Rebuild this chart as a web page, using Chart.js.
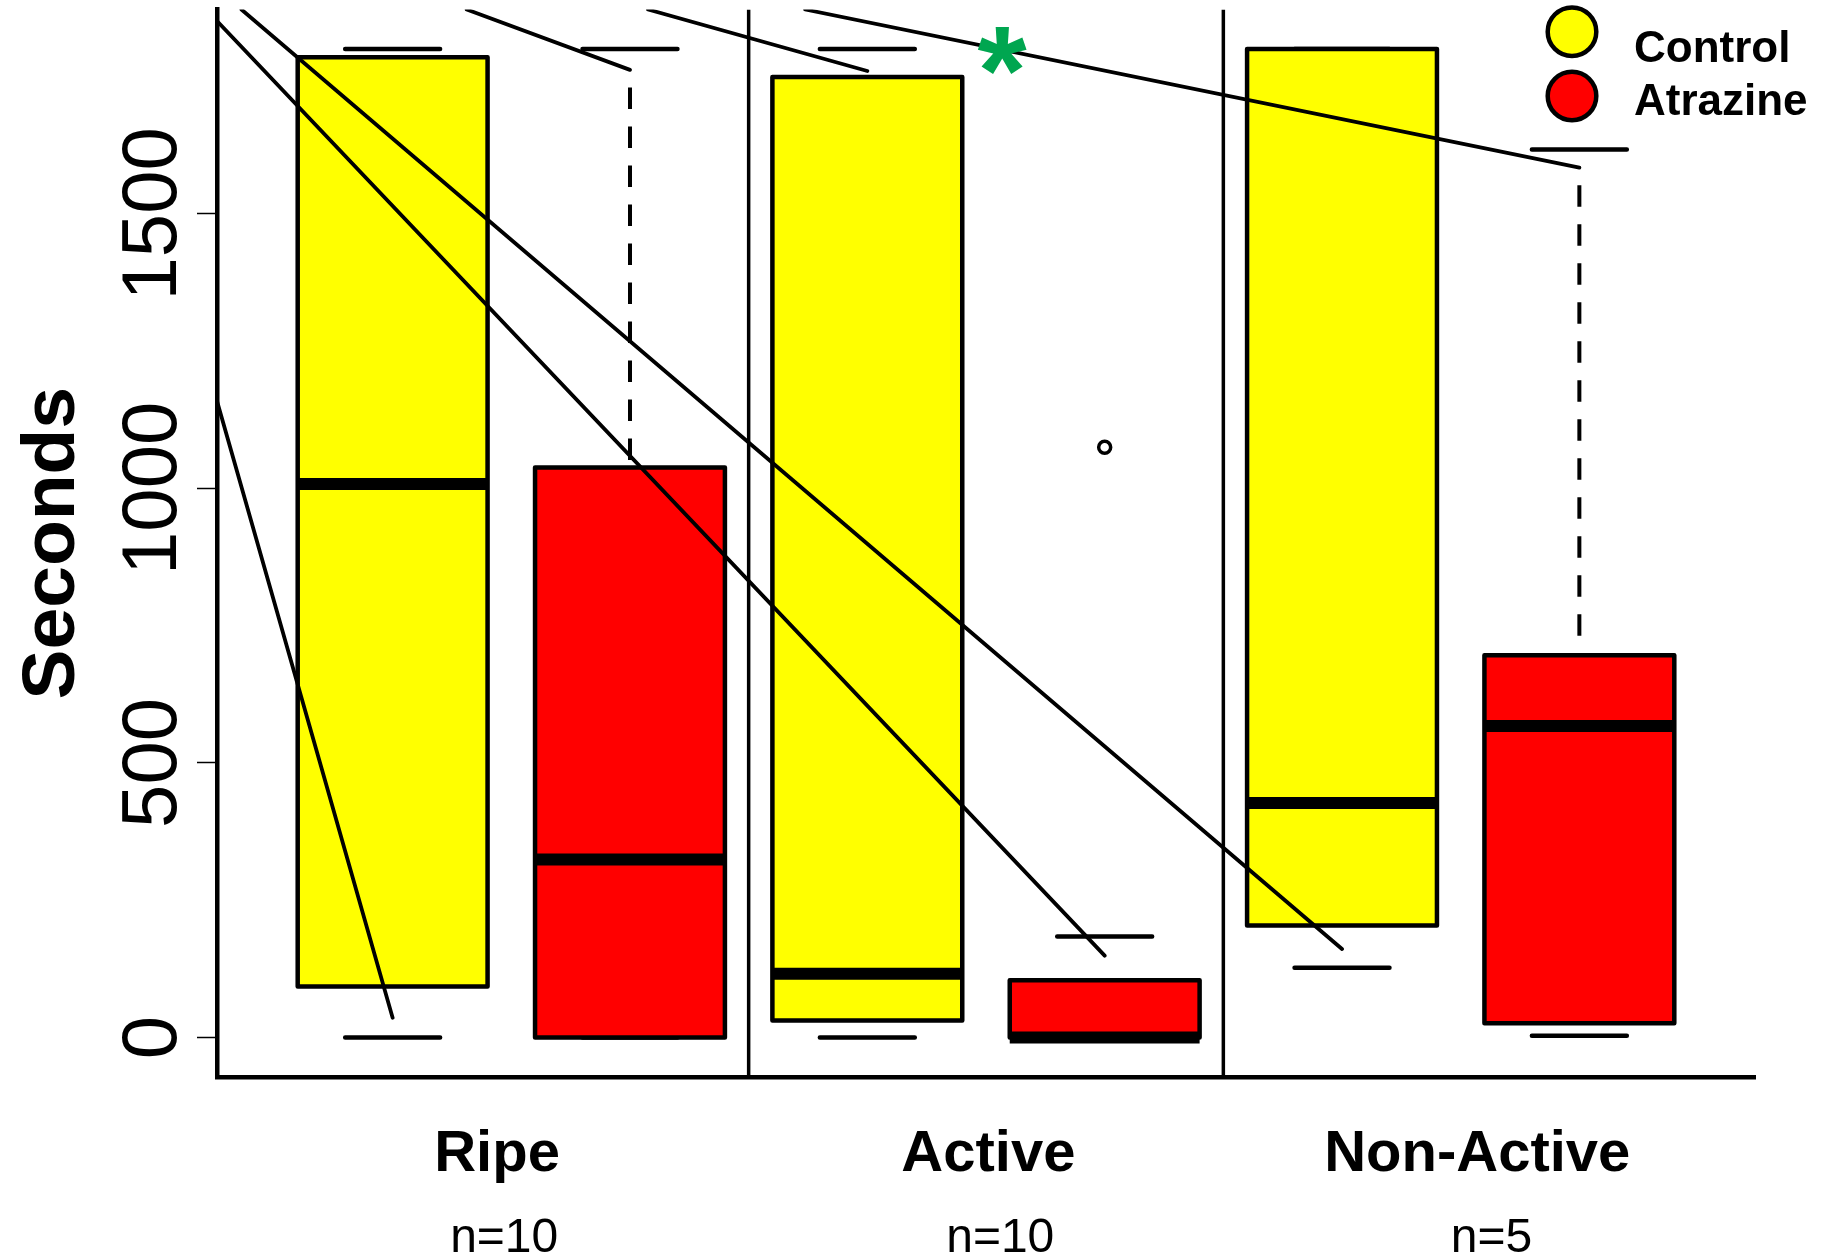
<!DOCTYPE html>
<html>
<head>
<meta charset="utf-8">
<script src="https://cdn.jsdelivr.net/npm/chart.js@4.4.1/dist/chart.umd.min.js"></script>
<style>
  html, body { margin: 0; padding: 0; background: #ffffff; }
  canvas { display: block; }
</style>
</head>
<body>
<canvas id="chart" width="1829" height="1256"></canvas>
<script>
// ---------------- DATA ----------------
const categories = ['Ripe', 'Active', 'Non-Active'];
const categoryPositions = [1.44, 3.51, 5.57];
const sampleSizeLabels = ['n=10', 'n=10', 'n=5'];
const sampleSizePositions = [1.47, 3.56, 5.63];

const groupNames = ['Control', 'Atrazine'];
const groupColors = ['#ffff00', '#ff0000'];

const boxPositions = [1, 2, 3, 4, 5, 6];
const boxGroups = [0, 1, 0, 1, 0, 1];
const whiskerLow = [0, 0, 0, 0, 127, 3];
const q1Values = [93, 0, 31, 0, 204, 26];
const medianValues = [1008, 324, 116, 0, 427, 567];
const q3Values = [1785, 1038, 1749, 104, 1800, 696];
const whiskerHigh = [1800, 1800, 1800, 184, 1800, 1617];
// visible dashed upper whisker lines (top end value), null = not drawn
const upperWhiskerLineTop = [null, 1762, null, null, null, 1584];

const outlierX = [4];
const outlierY = [1075];

const separatorPositions = [2.5, 4.5];

const yTicks = [0, 500, 1000, 1500];
const yRange = [-72, 1872];
const xRange = [0.26, 6.74];

// straight annotation lines (start / end in data units)
const lineStartX = [0.26, 0.26, 0.363, 1.312, 2.076, 2.738];
const lineStartY = [1159, 1851, 1872, 1872, 1872, 1872];
const lineEndX = [1, 4, 5, 2, 3, 6];
const lineEndY = [36, 149, 161, 1762, 1760, 1584];

const asteriskX = [3.57];
const asteriskY = [1797];

const yTitle = 'Seconds';

// ---------------- STYLE ----------------
const FONT = '"Liberation Sans", Arial, Helvetica, sans-serif';
const BOX_WIDTH = 0.8;
const CAP_WIDTH = 0.4;

// ---------------- DATASETS ----------------
const datasets = [];
lineStartX.forEach((sx, i) => {
  datasets.push({
    type: 'line',
    data: [{ x: sx, y: lineStartY[i] }, { x: lineEndX[i], y: lineEndY[i] }],
    borderColor: '#000000',
    borderWidth: 3.8,
    borderCapStyle: 'round',
    pointRadius: 0,
    fill: false,
    tension: 0
  });
});
separatorPositions.forEach(p => {
  datasets.push({
    type: 'line',
    data: [{ x: p, y: yRange[0] }, { x: p, y: yRange[1] }],
    borderColor: '#000000',
    borderWidth: 3.5,
    pointRadius: 0,
    fill: false
  });
});
datasets.push({
  type: 'scatter',
  data: outlierX.map((x, i) => ({ x: x, y: outlierY[i] })),
  pointRadius: 6,
  pointBorderWidth: 3.5,
  borderColor: '#000000',
  backgroundColor: 'rgba(0,0,0,0)',
  pointStyle: 'circle'
});

// ---------------- PLUGINS ----------------
const boxPlugin = {
  id: 'boxes',
  beforeDatasetsDraw(chart) {
    const { ctx, chartArea, scales } = chart;
    const x = scales.x, y = scales.y;
    ctx.save();
    ctx.beginPath();
    ctx.rect(chartArea.left, chartArea.top, chartArea.right - chartArea.left, chartArea.bottom - chartArea.top);
    ctx.clip();
    boxPositions.forEach((pos, i) => {
      const xl = x.getPixelForValue(pos - BOX_WIDTH / 2);
      const xr = x.getPixelForValue(pos + BOX_WIDTH / 2);
      const xc = x.getPixelForValue(pos);
      const cl = x.getPixelForValue(pos - CAP_WIDTH / 2);
      const cr = x.getPixelForValue(pos + CAP_WIDTH / 2);
      const yq1 = y.getPixelForValue(q1Values[i]);
      const yq3 = y.getPixelForValue(q3Values[i]);
      const ymed = y.getPixelForValue(medianValues[i]);
      const ylo = y.getPixelForValue(whiskerLow[i]);
      const yhi = y.getPixelForValue(whiskerHigh[i]);

      ctx.strokeStyle = '#000000';
      // dashed whisker, drawn downward from its top end to the box
      if (upperWhiskerLineTop[i] !== null) {
        ctx.save();
        ctx.setLineDash([21.5, 17.5]);
        ctx.lineDashOffset = 21.5;
        ctx.lineWidth = 4;
        ctx.lineCap = 'butt';
        ctx.beginPath();
        ctx.moveTo(xc, y.getPixelForValue(upperWhiskerLineTop[i]));
        ctx.lineTo(xc, yq3);
        ctx.stroke();
        ctx.restore();
      }
      // caps
      ctx.lineWidth = 4.5;
      ctx.lineCap = 'round';
      ctx.beginPath();
      ctx.moveTo(cl, yhi); ctx.lineTo(cr, yhi);
      ctx.moveTo(cl, ylo); ctx.lineTo(cr, ylo);
      ctx.stroke();
      // box
      ctx.fillStyle = groupColors[boxGroups[i]];
      ctx.fillRect(xl, yq3, xr - xl, yq1 - yq3);
      ctx.lineJoin = 'round';
      ctx.lineWidth = 4.5;
      ctx.strokeRect(xl, yq3, xr - xl, yq1 - yq3);
      // median
      ctx.lineWidth = 12;
      ctx.lineCap = 'butt';
      ctx.beginPath();
      ctx.moveTo(xl, ymed); ctx.lineTo(xr, ymed);
      ctx.stroke();
    });
    ctx.restore();
  },
  afterDatasetsDraw(chart) {
    const { ctx, scales } = chart;
    const x = scales.x, y = scales.y;
    ctx.save();
    asteriskX.forEach((ax, i) => {
      ctx.font = 'bold 100px ' + FONT;
      const m = ctx.measureText('*');
      const h = m.actualBoundingBoxAscent + m.actualBoundingBoxDescent;
      const size = 100 * 48 / h;
      ctx.font = 'bold ' + size + 'px ' + FONT;
      const m2 = ctx.measureText('*');
      const cx = x.getPixelForValue(ax);
      const cy = y.getPixelForValue(asteriskY[i]);
      const gx = cx - (m2.actualBoundingBoxRight - m2.actualBoundingBoxLeft) / 2;
      const gy = cy + (m2.actualBoundingBoxAscent - m2.actualBoundingBoxDescent) / 2;
      ctx.fillStyle = '#00a650';
      ctx.textAlign = 'left';
      ctx.textBaseline = 'alphabetic';
      ctx.fillText('*', gx, gy);
    });
    ctx.restore();
  },
  afterDraw(chart) {
    const { ctx, chartArea, scales } = chart;
    const x = scales.x, y = scales.y;
    ctx.save();
    ctx.fillStyle = '#000000';
    // y tick labels (rotated)
    ctx.font = '78px ' + FONT;
    ctx.textAlign = 'center';
    ctx.textBaseline = 'alphabetic';
    yTicks.forEach(v => {
      const py = y.getPixelForValue(v);
      ctx.save();
      ctx.translate(176, py);
      ctx.rotate(-Math.PI / 2);
      ctx.fillText(String(v), 0, 0);
      ctx.restore();
    });
    // y title
    ctx.font = 'bold 75px ' + FONT;
    ctx.save();
    ctx.translate(74, (chartArea.top + chartArea.bottom) / 2);
    ctx.rotate(-Math.PI / 2);
    ctx.fillText(yTitle, 0, 0);
    ctx.restore();
    // category labels
    ctx.font = 'bold 58px ' + FONT;
    categories.forEach((c, i) => {
      ctx.fillText(c, x.getPixelForValue(categoryPositions[i]), 1171);
    });
    ctx.font = '48px ' + FONT;
    sampleSizeLabels.forEach((s, i) => {
      ctx.fillText(s, x.getPixelForValue(sampleSizePositions[i]), 1252);
    });
    // legend
    const legendY = [31.7, 96];
    const legendTextY = [62, 115];
    groupNames.forEach((g, i) => {
      ctx.beginPath();
      ctx.arc(1572, legendY[i], 24.3, 0, Math.PI * 2);
      ctx.fillStyle = groupColors[i];
      ctx.fill();
      ctx.lineWidth = 4.5;
      ctx.strokeStyle = '#000000';
      ctx.stroke();
      ctx.fillStyle = '#000000';
      ctx.font = 'bold 44px ' + FONT;
      ctx.textAlign = 'left';
      ctx.fillText(g, 1634, legendTextY[i]);
    });
    ctx.restore();
  }
};

// ---------------- CHART ----------------
new Chart(document.getElementById('chart'), {
  type: 'scatter',
  data: { datasets: datasets },
  options: {
    responsive: false,
    animation: false,
    devicePixelRatio: 1,
    layout: { padding: { top: 5, right: 74, left: 0, bottom: 0 } },
    plugins: { legend: { display: false }, tooltip: { enabled: false }, title: { display: false } },
    scales: {
      x: {
        type: 'linear',
        min: xRange[0],
        max: xRange[1],
        ticks: { display: false },
        grid: { display: false },
        border: { display: true, color: '#000000', width: 4.5 },
        afterFit: s => { s.height = 179; }
      },
      y: {
        type: 'linear',
        min: yRange[0],
        max: yRange[1],
        afterBuildTicks: s => { s.ticks = yTicks.map(v => ({ value: v })); },
        ticks: { display: false },
        grid: { display: true, drawOnChartArea: false, drawTicks: true, tickLength: 20, tickWidth: 1.5, tickColor: '#000000' },
        border: { display: true, color: '#000000', width: 4.5 },
        afterFit: s => { s.width = 217; }
      }
    }
  },
  plugins: [boxPlugin]
});
</script>
</body>
</html>
